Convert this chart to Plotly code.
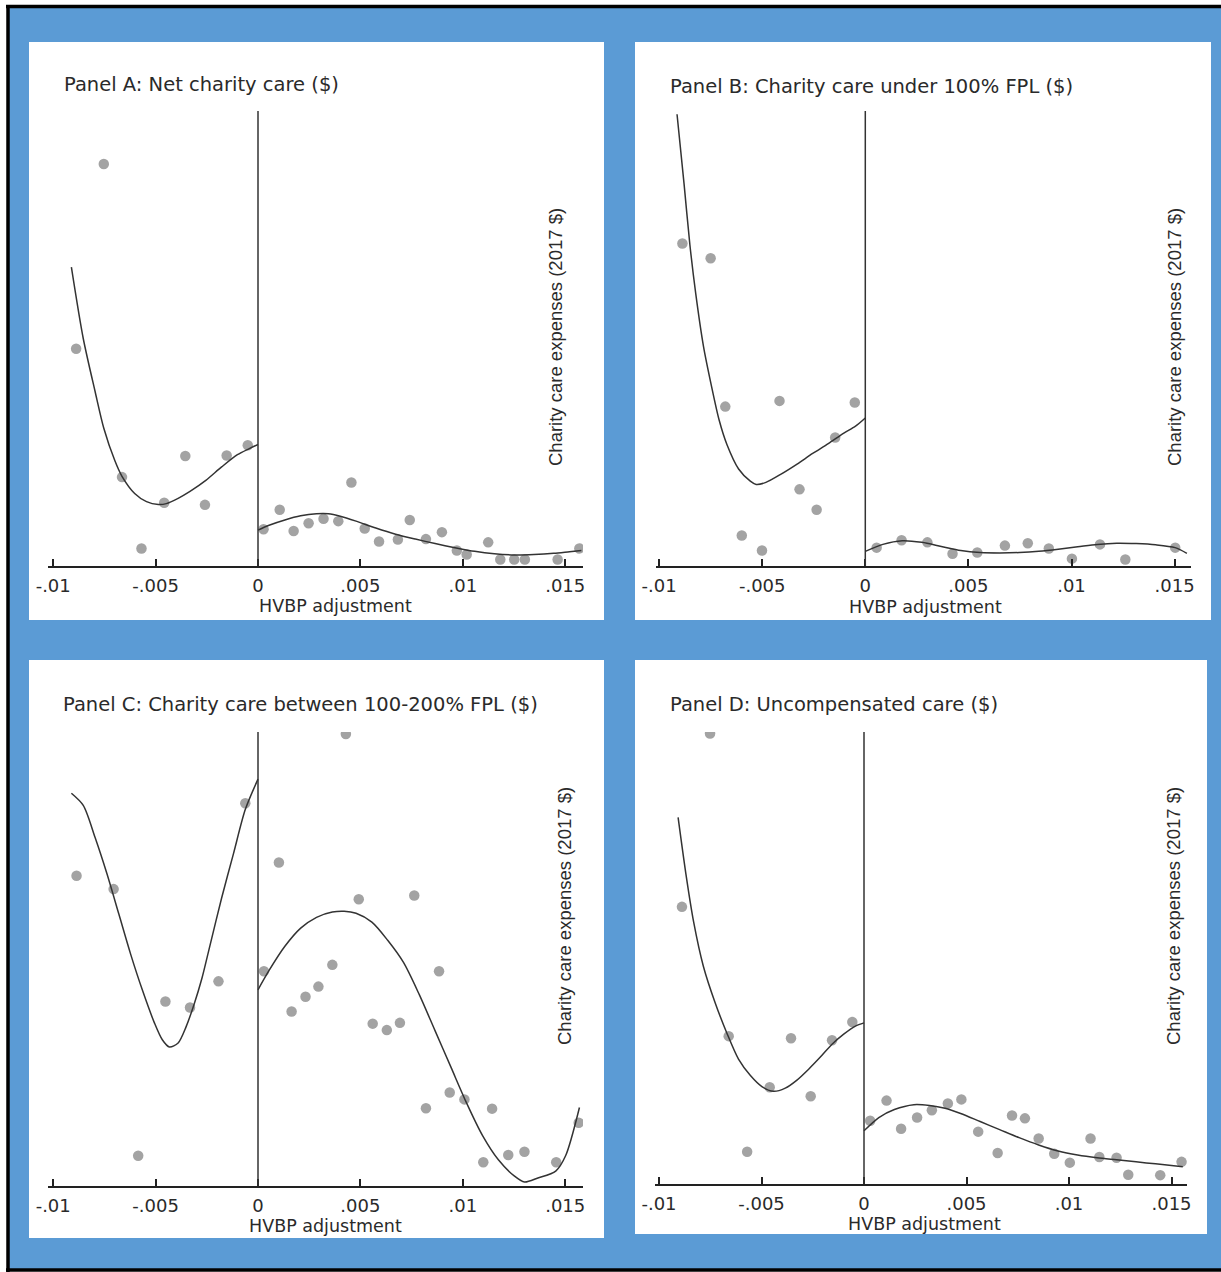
import plotly.graph_objects as go

W, H = 1221, 1272

# ---------------- DATA (y in relative units) ----------------
tick_vals = [-0.01, -0.005, 0, 0.005, 0.01, 0.015]
tick_text = ["-.01", "-.005", "0", ".005", ".01", ".015"]

titles = ["Panel A: Net charity care ($)",
          "Panel B: Charity care under 100% FPL ($)",
          "Panel C: Charity care between 100-200% FPL ($)",
          "Panel D: Uncompensated care ($)"]
y_title = "Charity care expenses (2017 $)"
x_title = "HVBP adjustment"

# Panel A
a_dot_x = [-0.00888, -0.00753, -0.00664, -0.00569, -0.00458, -0.00355, -0.00259, -0.00153, -0.00050,
           0.00027, 0.00106, 0.00174, 0.00247, 0.00320, 0.00392, 0.00456, 0.00521, 0.00591, 0.00683,
           0.00741, 0.00820, 0.00898, 0.00971, 0.01019, 0.01124, 0.01183, 0.01251, 0.01303, 0.01463, 0.01569]
a_dot_y = [533, 986, 218, 43, 155, 270, 150, 271, 296,
           90, 138, 86, 105, 116, 110, 205, 92, 60, 65,
           113, 66, 83, 38, 28, 58, 16, 16, 16, 16, 43]
a_left_x = [-0.009112, -0.008533, -0.007954, -0.007529, -0.006988, -0.006641, -0.006023, -0.005444, -0.004865,
            -0.004479, -0.003900, -0.003320, -0.002548, -0.001776, -0.001004, -0.000425, 0.0]
a_left_y = [733, 558, 428, 338, 258, 220, 178, 158, 151, 153, 166, 183, 210, 243, 273, 288, 298]
a_right_x = [0.0, 0.000541, 0.001313, 0.002085, 0.002857, 0.003436, 0.004015, 0.004788, 0.005753, 0.006718,
             0.007683, 0.008649, 0.009614, 0.010579, 0.011544, 0.012510, 0.013475, 0.014440, 0.015212, 0.015792]
a_right_y = [88, 100, 113, 123, 128, 128, 122, 110, 93, 78, 66, 55, 45, 36, 30, 27, 28, 31, 35, 38]

# Panel B
b_dot_x = [-0.00887, -0.00750, -0.00679, -0.00599, -0.00501, -0.00416, -0.00319, -0.00236, -0.00146, -0.00051,
           0.00055, 0.00176, 0.00301, 0.00423, 0.00543, 0.00677, 0.00788, 0.00890, 0.01002, 0.01138, 0.01261, 0.01503]
b_dot_y = [791, 755, 391, 75, 38, 405, 188, 138, 315, 401,
           45, 63, 58, 30, 33, 50, 56, 43, 18, 53, 16, 45]
b_left_x = [-0.009130, -0.008790, -0.008507, -0.008223, -0.007845, -0.007467, -0.007089, -0.006711, -0.006144,
            -0.005577, -0.005293, -0.004820, -0.004064, -0.003308, -0.002552, -0.001796, -0.001040, -0.000473, 0.0]
b_left_y = [1108, 938, 788, 668, 538, 443, 358, 298, 238, 208, 200, 205, 226, 250, 276, 300, 326, 343, 363]
b_right_x = [0.0, 0.000851, 0.001796, 0.002741, 0.003686, 0.004631, 0.005577, 0.006522, 0.007467, 0.008412,
             0.009357, 0.010302, 0.011248, 0.012193, 0.013138, 0.014083, 0.015028, 0.015595]
b_right_y = [36, 53, 62, 58, 48, 38, 33, 32, 33, 36, 41, 47, 53, 56, 55, 52, 45, 31]

# Panel C
c_dot_x = [-0.00886, -0.00705, -0.00585, -0.00452, -0.00332, -0.00193, -0.00062,
           0.00029, 0.00102, 0.00164, 0.00232, 0.00295, 0.00363, 0.00429, 0.00492, 0.00560, 0.00629,
           0.00693, 0.00763, 0.00820, 0.00884, 0.00936, 0.01008, 0.01100, 0.01143, 0.01222, 0.01301,
           0.01456, 0.01566]
c_dot_y = [770, 737, 75, 458, 443, 508, 950,
           533, 803, 433, 470, 495, 549, 1122, 712, 403, 387,
           405, 721, 193, 533, 232, 215, 59, 192, 77, 85,
           59, 157]
c_left_x = [-0.009112, -0.008533, -0.007954, -0.007375, -0.006795, -0.006216, -0.005637, -0.005058, -0.004672,
            -0.004324, -0.003900, -0.003514, -0.003127, -0.002741, -0.002355, -0.001776, -0.001197, -0.000618, 0.0]
c_left_y = [975, 945, 865, 775, 675, 575, 485, 405, 363, 345, 355, 395, 450, 515, 595, 715, 825, 935, 1010]
c_right_x = [0.0, 0.000541, 0.001313, 0.002085, 0.002857, 0.003629, 0.004208, 0.004788, 0.005560, 0.006332,
             0.007104, 0.007876, 0.008649, 0.009421, 0.010193, 0.010965, 0.011737, 0.012510, 0.013012,
             0.013668, 0.014537, 0.015019, 0.015695]
c_right_y = [487, 535, 595, 640, 667, 680, 682, 677, 655, 610, 555, 475, 385, 295, 205, 125, 65, 25, 10,
             20, 37, 75, 195]

# Panel D
d_dot_x = [-0.00888, -0.00751, -0.00660, -0.00570, -0.00460, -0.00356, -0.00260, -0.00156, -0.00057,
           0.00030, 0.00110, 0.00181, 0.00259, 0.00331, 0.00409, 0.00475, 0.00557, 0.00652, 0.00722,
           0.00785, 0.00852, 0.00928, 0.01004, 0.01105, 0.01148, 0.01232, 0.01289, 0.01445, 0.01549]
d_dot_y = [688, 1118, 367, 80, 240, 362, 218, 357, 402,
           157, 207, 137, 165, 183, 200, 210, 130, 77, 170,
           163, 113, 75, 53, 113, 67, 65, 23, 22, 55]
d_left_x = [-0.009068, -0.008688, -0.008308, -0.007833, -0.007262, -0.006692, -0.006122, -0.005551, -0.004981,
            -0.004411, -0.003840, -0.003270, -0.002700, -0.002129, -0.001559, -0.000989, -0.000418, 0.0]
d_left_y = [910, 770, 650, 540, 450, 375, 310, 270, 242, 230, 238, 258, 285, 315, 347, 372, 392, 400]
d_right_x = [0.0, 0.000722, 0.001483, 0.002433, 0.003194, 0.003954, 0.004715, 0.005665, 0.006616, 0.007567,
             0.008517, 0.009468, 0.010418, 0.011369, 0.012319, 0.013270, 0.014221, 0.015551]
d_right_y = [132, 165, 185, 197, 195, 188, 175, 155, 135, 115, 97, 82, 72, 65, 60, 55, 50, 43]

# ---------------- LAYOUT (pixel geometry) ----------------
BLUE = "#5B9BD5"
DOT = "#A3A3A3"
LINE = "#333333"
TXT = "#2a2a2a"


def px(x):
    return x / W


def py(y):
    return 1 - y / H


panels = [
    dict(data=(a_dot_x, a_dot_y, a_left_x, a_left_y, a_right_x, a_right_y),
         box=(29, 42, 604, 620), plot=(48, 111, 583, 566), xr=(-0.010254, 0.015869), yr=(0, 1116),
         title=(62, 85), ytitle=(555, 337), xtitle=(335, 606)),
    dict(data=(b_dot_x, b_dot_y, b_left_x, b_left_y, b_right_x, b_right_y),
         box=(635, 42, 1211, 620), plot=(656, 111, 1191, 566), xr=(-0.010150, 0.015795), yr=(0, 1116),
         title=(668, 86), ytitle=(1174, 337), xtitle=(926, 607)),
    dict(data=(c_dot_x, c_dot_y, c_left_x, c_left_y, c_right_x, c_right_y),
         box=(29, 660, 604, 1238), plot=(48, 732, 583, 1186), xr=(-0.010254, 0.015869), yr=(0, 1127),
         title=(61, 704), ytitle=(565, 916), xtitle=(325, 1226)),
    dict(data=(d_dot_x, d_dot_y, d_left_x, d_left_y, d_right_x, d_right_y),
         box=(635, 660, 1207, 1234), plot=(655, 732, 1187, 1184), xr=(-0.010195, 0.015756), yr=(0, 1122),
         title=(668, 704), ytitle=(1174, 916), xtitle=(924, 1224)),
]

fig = go.Figure()
shapes = [
    # outer blue field
    dict(type="rect", xref="paper", yref="paper", x0=px(8), x1=1, y0=py(1270), y1=py(6.5),
         fillcolor=BLUE, line=dict(width=0), layer="below"),
    # black frame: top, left, bottom
    dict(type="line", xref="paper", yref="paper", x0=px(6), x1=1, y0=py(6.5), y1=py(6.5),
         line=dict(color="black", width=3.5), layer="below"),
    dict(type="line", xref="paper", yref="paper", x0=px(8), x1=px(8), y0=py(1272), y1=py(5),
         line=dict(color="black", width=3.5), layer="below"),
    dict(type="line", xref="paper", yref="paper", x0=px(6), x1=1, y0=py(1270), y1=py(1270),
         line=dict(color="black", width=3.5), layer="below"),
]
annotations = []
layout_axes = {}

for i, p in enumerate(panels):
    n = "" if i == 0 else str(i + 1)
    xa, ya = "x" + n, "y" + n
    dx, dy, lx, ly, rx, ry = p["data"]
    fig.add_trace(go.Scatter(x=dx, y=dy, mode="markers", xaxis=xa, yaxis=ya,
                             marker=dict(color=DOT, size=10.5, line=dict(width=0)), showlegend=False))
    fig.add_trace(go.Scatter(x=lx, y=ly, mode="lines", xaxis=xa, yaxis=ya,
                             line=dict(color=LINE, width=1.5, shape="spline", smoothing=0.8),
                             showlegend=False))
    fig.add_trace(go.Scatter(x=rx, y=ry, mode="lines", xaxis=xa, yaxis=ya,
                             line=dict(color=LINE, width=1.5, shape="spline", smoothing=0.8),
                             showlegend=False))
    bx0, by0, bx1, by1 = p["box"]
    shapes.append(dict(type="rect", xref="paper", yref="paper", x0=px(bx0), x1=px(bx1), y0=py(by1), y1=py(by0),
                       fillcolor="white", line=dict(width=0), layer="below"))
    x0, y0, x1, y1 = p["plot"]
    layout_axes["xaxis" + n] = dict(domain=[px(x0), px(x1)], range=list(p["xr"]), anchor=ya,
                                    tickvals=tick_vals, ticktext=tick_text, ticks="inside", ticklen=7,
                                    tickwidth=1.5, tickcolor="#222", showline=True, linecolor="#222",
                                    linewidth=1.5, showgrid=False, zeroline=False, automargin=False,
                                    tickfont=dict(family="DejaVu Sans", size=18, color=TXT),
                                    ticklabelstandoff=3, fixedrange=True)
    layout_axes["yaxis" + n] = dict(domain=[py(y1), py(y0)], range=list(p["yr"]), anchor=xa,
                                    visible=False, showgrid=False, zeroline=False, automargin=False,
                                    fixedrange=True)
    # vertical reference line at 0
    shapes.append(dict(type="line", xref=xa, yref=ya + " domain", x0=0, x1=0, y0=0, y1=1,
                       line=dict(color=LINE, width=1.5)))
    tx, ty = p["title"]
    annotations.append(dict(text=titles[i], xref="paper", yref="paper", x=px(tx), y=py(ty),
                            xanchor="left", yanchor="middle", showarrow=False,
                            font=dict(family="DejaVu Sans", size=19.5, color=TXT)))
    yx, yy = p["ytitle"]
    annotations.append(dict(text=y_title, xref="paper", yref="paper", x=px(yx), y=py(yy),
                            xanchor="center", yanchor="middle", textangle=-90, showarrow=False,
                            font=dict(family="Liberation Sans", size=18.5, color=TXT)))
    hx, hy = p["xtitle"]
    annotations.append(dict(text=x_title, xref="paper", yref="paper", x=px(hx), y=py(hy),
                            xanchor="center", yanchor="middle", showarrow=False,
                            font=dict(family="DejaVu Sans", size=17.5, color=TXT)))

fig.update_layout(template="none", width=W, height=H, autosize=False,
                  margin=dict(l=0, r=0, t=0, b=0, pad=0, autoexpand=False),
                  paper_bgcolor="white", plot_bgcolor="rgba(0,0,0,0)", showlegend=False,
                  shapes=shapes, annotations=annotations, **layout_axes)

fig.write_html("out.html", config={"responsive": False, "displayModeBar": False},
               post_script="document.body.style.margin='0';document.body.style.padding='0';"
                           "document.documentElement.style.overflow='hidden';"
                           "document.body.style.overflow='hidden';")
